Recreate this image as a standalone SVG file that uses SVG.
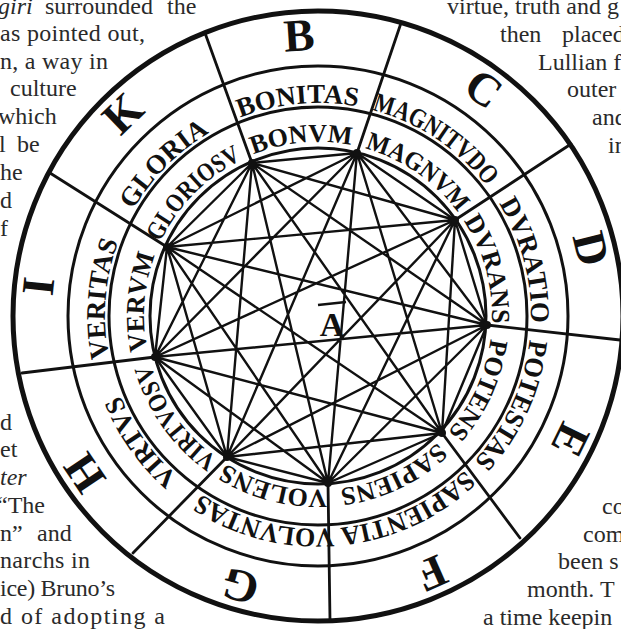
<svg xmlns="http://www.w3.org/2000/svg" width="621" height="629" viewBox="0 0 621 629">
<style>
.pg{font-family:"Liberation Serif",serif;font-size:24px;fill:#2a2a2a}
.it{font-style:italic}
.lt{font-family:"Liberation Serif",serif;font-weight:bold;font-size:46px;fill:#111}
.rt{font-family:"Liberation Serif",serif;font-weight:bold;font-size:27px;fill:#111}
.ri{font-family:"Liberation Serif",serif;font-weight:bold;font-size:26px;fill:#111}
.ring{fill:none;stroke:#111;stroke-width:3}
.div{fill:none;stroke:#111;stroke-width:2.8;stroke-linecap:round}
.chord{fill:none;stroke:#111;stroke-width:2.4}
.dot{fill:#111}
</style>
<defs>
<path id="pL" d="M584,316 A266,266 0 0 1 52,316 A266,266 0 0 1 584,316 A266,266 0 0 1 52,316 A266,266 0 0 1 584,316"/>
<path id="pO" d="M531,316 A213,213 0 0 1 105,316 A213,213 0 0 1 531,316 A213,213 0 0 1 105,316 A213,213 0 0 1 531,316"/>
<path id="pI" d="M492,316 A174,174 0 0 1 144,316 A174,174 0 0 1 492,316 A174,174 0 0 1 144,316 A174,174 0 0 1 492,316"/>
</defs>
<rect width="621" height="629" fill="#fff"/>

<g id="page-text">
<text class="pg" y="14"><tspan class="it" x="-2">giri</tspan><tspan x="45">surrounded</tspan><tspan x="167">the</tspan></text>
<text class="pg" x="0" y="41" textLength="145" lengthAdjust="spacing">as pointed out,</text>
<text class="pg" x="0" y="69" textLength="108" lengthAdjust="spacing">n, a way in</text>
<text class="pg" x="10" y="96">culture</text>
<text class="pg" x="-2" y="124">which</text>
<text class="pg" y="152"><tspan x="-1">l</tspan><tspan x="17">be</tspan></text>
<text class="pg" x="0" y="180">he</text>
<text class="pg" x="0" y="208">d</text>
<text class="pg" x="0" y="236">f</text>
<text class="pg" x="0" y="430">d</text>
<text class="pg" x="0" y="457">et</text>
<text class="pg it" x="0" y="485">ter</text>
<text class="pg" x="-3" y="513">“The</text>
<text class="pg" y="541"><tspan x="0">n”</tspan><tspan x="37">and</tspan></text>
<text class="pg" x="0" y="568" textLength="90" lengthAdjust="spacing">narchs in</text>
<text class="pg" x="0" y="596" textLength="115" lengthAdjust="spacing">ice) Bruno’s</text>
<text class="pg" x="0" y="624" textLength="165" lengthAdjust="spacing">d of adopting a</text>
<text class="pg" x="447" y="14">virtue, truth and g</text>
<text class="pg" y="42"><tspan x="500">then</tspan><tspan x="562">placed</tspan></text>
<text class="pg" x="538" y="70">Lullian f</text>
<text class="pg" x="567" y="97">outer</text>
<text class="pg" x="592" y="125">and</text>
<text class="pg" x="608" y="153">in</text>
<text class="pg" x="602" y="514">co</text>
<text class="pg" x="583" y="542">com</text>
<text class="pg" x="558" y="569">been s</text>
<text class="pg" x="527" y="597">month. T</text>
<text class="pg" x="483" y="625">a time keepin</text>
</g>

<g id="rings">
<circle cx="318" cy="316" r="305" fill="none" stroke="#111" stroke-width="5"/>
<circle class="ring" cx="318" cy="316" r="250"/>
<circle class="ring" cx="318" cy="316" r="209"/>
<circle class="ring" cx="318" cy="316" r="168"/>
<path class="div" d="M328,483 L330,620 M227,457 L133,553 M155,357 L22,373 M167,247 L50,173 M252,163 L205,33 M357,153 L401,23 M455,220 L571,144 M487,325 L620,340 M442,433 L520,538"/>
</g>

<g id="connectors">
<path class="chord" d="
M328,483 L227,457 M328,483 L155,357 M328,483 L167,247 M328,483 L252,163 M328,483 L357,153 M328,483 L455,220 M328,483 L487,325 M328,483 L442,433
M227,457 L155,357 M227,457 L167,247 M227,457 L252,163 M227,457 L357,153 M227,457 L455,220 M227,457 L487,325 M227,457 L442,433
M155,357 L167,247 M155,357 L252,163 M155,357 L357,153 M155,357 L455,220 M155,357 L487,325 M155,357 L442,433
M167,247 L252,163 M167,247 L357,153 M167,247 L455,220 M167,247 L487,325 M167,247 L442,433
M252,163 L357,153 M252,163 L455,220 M252,163 L487,325 M252,163 L442,433
M357,153 L455,220 M357,153 L487,325 M357,153 L442,433
M455,220 L487,325 M455,220 L442,433
M487,325 L442,433"/>
</g>

<g id="center-A">
<text x="332" y="336" text-anchor="middle" font-family="Liberation Serif, serif" font-weight="bold" font-size="34" fill="#111">A</text>
<path d="M318,305 L346,302" fill="none" stroke="#111" stroke-width="2.5"/>
</g>

<g id="sector-B">
<text class="lt"><textPath href="#pL" startOffset="1234.9" text-anchor="middle">B</textPath></text>
<text class="rt"><textPath href="#pO" startOffset="983.3" text-anchor="middle">BONITAS</textPath></text>
<text class="ri"><textPath href="#pI" startOffset="803.3" text-anchor="middle">BONVM</textPath></text>
<circle class="dot" cx="252" cy="163" r="4"/>
</g>
<g id="sector-C">
<text class="lt"><textPath href="#pL" startOffset="1420.6" text-anchor="middle">C</textPath></text>
<text class="rt"><textPath href="#pO" startOffset="1128" text-anchor="middle" textLength="140" lengthAdjust="spacingAndGlyphs">MAGNITVDO</textPath></text>
<text class="ri"><textPath href="#pI" startOffset="924.7" text-anchor="middle" textLength="115" lengthAdjust="spacingAndGlyphs">MAGNVM</textPath></text>
<circle class="dot" cx="357" cy="153" r="4"/>
</g>
<g id="sector-D">
<text class="lt"><textPath href="#pL" startOffset="1606.3" text-anchor="middle">D</textPath></text>
<text class="rt"><textPath href="#pO" startOffset="1282" text-anchor="middle">DVRATIO</textPath></text>
<text class="ri"><textPath href="#pI" startOffset="1046.2" text-anchor="middle">DVRANS</textPath></text>
<circle class="dot" cx="455" cy="220" r="4"/>
</g>
<g id="sector-E">
<text class="lt"><textPath href="#pL" startOffset="1792" text-anchor="middle">E</textPath></text>
<text class="rt"><textPath href="#pO" startOffset="1429.4" text-anchor="middle" textLength="136" lengthAdjust="spacingAndGlyphs">POTESTAS</textPath></text>
<text class="ri"><textPath href="#pI" startOffset="1167.7" text-anchor="middle">POTENS</textPath></text>
<circle class="dot" cx="487" cy="325" r="4"/>
</g>
<g id="sector-F">
<text class="lt"><textPath href="#pL" startOffset="1977.7" text-anchor="middle">F</textPath></text>
<text class="rt"><textPath href="#pO" startOffset="1580" text-anchor="middle" textLength="140" lengthAdjust="spacingAndGlyphs">SAPIENTIA</textPath></text>
<text class="ri"><textPath href="#pI" startOffset="1289.1" text-anchor="middle">SAPIENS</textPath></text>
<circle class="dot" cx="442" cy="433" r="4"/>
</g>
<g id="sector-G">
<text class="lt"><textPath href="#pL" startOffset="492.1" text-anchor="middle">G</textPath></text>
<text class="rt"><textPath href="#pO" startOffset="388.5" text-anchor="middle" textLength="140" lengthAdjust="spacingAndGlyphs">VOLVNTAS</textPath></text>
<text class="ri"><textPath href="#pI" startOffset="317.4" text-anchor="middle">VOLENS</textPath></text>
<circle class="dot" cx="328" cy="483" r="4"/>
</g>
<g id="sector-H">
<text class="lt"><textPath href="#pL" startOffset="677.8" text-anchor="middle">H</textPath></text>
<text class="rt"><textPath href="#pO" startOffset="537.2" text-anchor="middle">VIRTVS</textPath></text>
<text class="ri"><textPath href="#pI" startOffset="438.8" text-anchor="middle" textLength="118" lengthAdjust="spacingAndGlyphs">VIRTVOSV</textPath></text>
<circle class="dot" cx="227" cy="457" r="4"/>
</g>
<g id="sector-I">
<text class="lt"><textPath href="#pL" startOffset="863.5" text-anchor="middle">I</textPath></text>
<text class="rt"><textPath href="#pO" startOffset="685.9" text-anchor="middle">VERITAS</textPath></text>
<text class="ri"><textPath href="#pI" startOffset="560.3" text-anchor="middle">VERVM</textPath></text>
<circle class="dot" cx="155" cy="357" r="4"/>
</g>
<g id="sector-K">
<text class="lt"><textPath href="#pL" startOffset="1049.2" text-anchor="middle">K</textPath></text>
<text class="rt"><textPath href="#pO" startOffset="834.6" text-anchor="middle">GLORIA</textPath></text>
<text class="ri"><textPath href="#pI" startOffset="681.8" text-anchor="middle" textLength="118" lengthAdjust="spacingAndGlyphs">GLORIOSV</textPath></text>
<circle class="dot" cx="167" cy="247" r="4"/>
</g>
</svg>
